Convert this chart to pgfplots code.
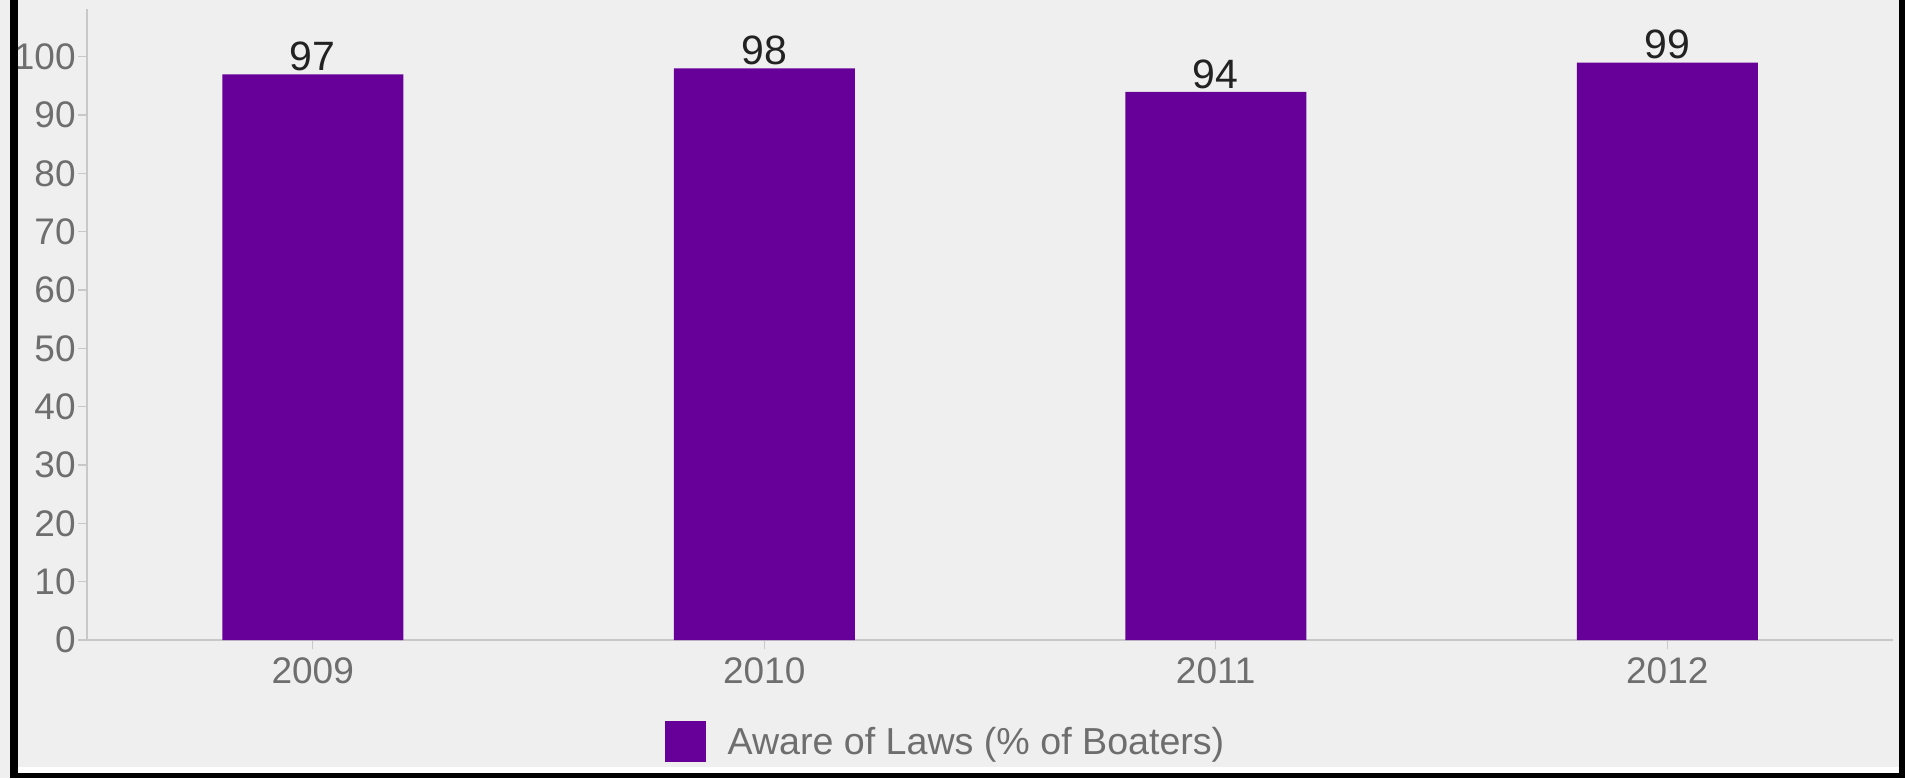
\documentclass[border=0pt]{standalone}
\usepackage{fontspec}
\setmainfont{Liberation Sans}
\usepackage{pgfplots}
\pgfplotsset{compat=1.18}
\definecolor{bg}{HTML}{EFEFEF}
\definecolor{barc}{HTML}{660099}
\definecolor{axc}{HTML}{C8C8C8}
\definecolor{tickc}{HTML}{6E6E6E}
\definecolor{valc}{HTML}{222222}
\begin{document}
\begin{tikzpicture}
\useasboundingbox (0,0) rectangle (952.5pt,389pt);
\fill[bg] (0,0) rectangle (952.5pt,389pt);
\begin{axis}[
  at={(43.5pt,69pt)}, anchor=south west,
  scale only axis, width=903pt, height=315.5pt,
  xmin=-0.5, xmax=3.5, ymin=0, ymax=108.2,
  ybar, bar width=90.5pt,
  axis x line*=bottom, axis y line*=left,
  axis line style={axc, line width=0.65pt},
  tick style={axc, line width=0.65pt},
  tick align=outside, major tick length=4.5pt,
  xtick={0,1,2,3}, xticklabels={2009,2010,2011,2012},
  ytick={0,10,...,100},
  /pgf/number format/assume math mode=true,
  ticklabel style={font=\fontsize{18.5}{22}\selectfont, text=tickc},
  yticklabel style={inner sep=1pt},
  xticklabel style={inner sep=4pt},
  nodes near coords,
  nodes near coords style={font=\fontsize{20.5}{24}\selectfont, text=valc, inner sep=1.5pt, anchor=south},
  legend style={at={(0.4748,-0.1616)}, anchor=center, draw=none, fill=none, inner sep=0pt,
    font=\fontsize{18.8}{22}\selectfont, text=tickc, nodes={inner sep=0pt}},
  clip=false,
]
\addplot[fill=barc, draw=none,
  legend image code/.code={\fill[barc] (0pt,-10.25pt) rectangle (20.5pt,10.25pt); \path (31.5pt,0pt);}]
  coordinates {(0,97) (1,98) (2,94) (3,99)};
\addlegendentry{Aware of Laws (\% of Boaters)}
\end{axis}
\fill[black] (5pt,0) rectangle (9pt,389pt);
\fill[black] (949.5pt,0) rectangle (952.5pt,389pt);
\fill[black] (5pt,0) rectangle (952.5pt,2.5pt);
\fill[white] (9pt,2.5pt) rectangle (949.5pt,5.5pt);
\end{tikzpicture}
\end{document}
